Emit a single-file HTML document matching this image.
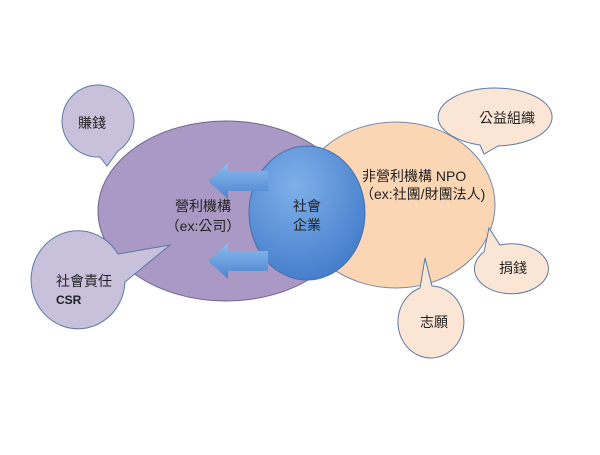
<!DOCTYPE html>
<html><head><meta charset="utf-8"><style>
html,body{margin:0;padding:0;background:#fff;}
text{font-family:"Liberation Sans","Noto Sans CJK TC",sans-serif;fill:#222;}
</style></head><body>
<svg width="600" height="450" viewBox="0 0 600 450" xmlns="http://www.w3.org/2000/svg">
<defs>
<radialGradient id="bl" cx="0.4" cy="0.3" r="0.8">
<stop offset="0" stop-color="#7fb0ea"/><stop offset="1" stop-color="#3f78c8"/></radialGradient>
<linearGradient id="ar" x1="0" y1="0" x2="0" y2="1">
<stop offset="0" stop-color="#8cbcee"/><stop offset="1" stop-color="#4a84d0"/></linearGradient>
</defs>
<!-- purple ellipse -->
<ellipse cx="226" cy="211" rx="128" ry="90" fill="#a999c4" stroke="#6d6490" stroke-width="1"/>
<!-- peach ellipse -->
<ellipse cx="396" cy="205" rx="99" ry="83" fill="#fbd6b5" stroke="#7888aa" stroke-width="1"/>
<!-- blue circle -->
<ellipse cx="307" cy="213" rx="58" ry="67" fill="url(#bl)" stroke="#4a6fa8" stroke-width="1"/>
<!-- arrows -->
<path d="M268,171 L228,171 L228,163 L208,181 L228,199 L228,191 L268,191 Z" fill="url(#ar)"/>
<path d="M268,251 L228,251 L228,243 L208,261 L228,279 L228,271 L268,271 Z" fill="url(#ar)"/>
<!-- bubbles -->
<path d="M100,157 A36,36 0 1 1 118,151 L107,166 Z" fill="#c9c0dc" stroke="#5c7aa5" stroke-width="1"/>
<path d="M118,254 L170,245 L125,282 A47,49 0 1 1 118,254 Z" fill="#c9c0dc" stroke="#5c7aa5" stroke-width="1"/>
<path d="M480,145 A57,29 0 1 1 498,146 L484,154 Z" fill="#fbe5d5" stroke="#5c7aa5" stroke-width="1"/>
<path d="M500,245 A37,25 0 1 1 484,252 L489,228 Z" fill="#fbe5d5" stroke="#5c7aa5" stroke-width="1"/>
<path d="M432,286 A33,36 0 1 1 420,288 L425,258 Z" fill="#fbe5d5" stroke="#5c7aa5" stroke-width="1"/>
<!-- text -->
<text x="92" y="128" font-size="14" text-anchor="middle">賺錢</text>
<text x="56" y="286" font-size="14">社會責任</text>
<text x="56" y="304" font-size="12" font-weight="bold">CSR</text>
<text x="507" y="123" font-size="14" text-anchor="middle">公益組織</text>
<text x="513" y="273" font-size="14" text-anchor="middle">捐錢</text>
<text x="434" y="327" font-size="14" text-anchor="middle">志願</text>
<text x="203" y="211" font-size="14" text-anchor="middle">營利機構</text>
<text x="203" y="231" font-size="14" text-anchor="middle">（ex:公司）</text>
<text x="307" y="211" font-size="14" text-anchor="middle">社會</text>
<text x="307" y="230" font-size="14" text-anchor="middle">企業</text>
<text x="362" y="181" font-size="14">非營利機構 NPO</text>
<text x="360" y="199" font-size="14">（ex:社團/財團法人)</text>
</svg>
</body></html>
